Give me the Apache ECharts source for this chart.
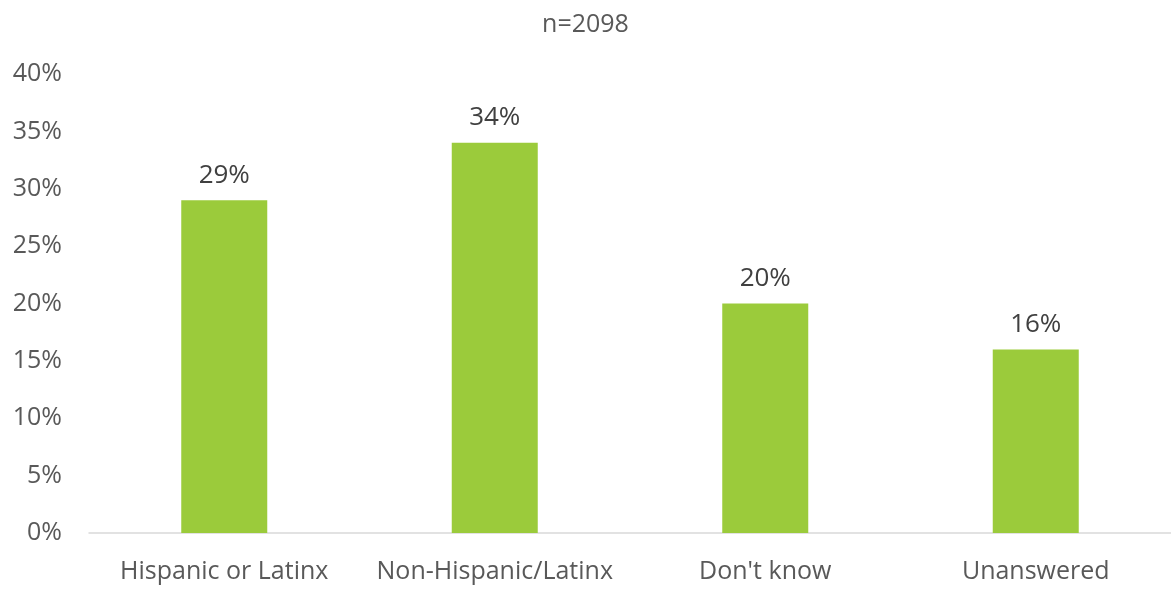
<!DOCTYPE html>
<html>
<head>
<meta charset="utf-8">
<script src="https://cdn.jsdelivr.net/npm/echarts@6/dist/echarts.min.js"></script>
<style>html,body{margin:0;padding:0;background:#fff}#c{width:1171px;height:591px}</style>
</head>
<body>
<div id="c"></div>
<script>
const categories = ["Hispanic or Latinx", "Non-Hispanic/Latinx", "Don't know", "Unanswered"];
const values = [29, 34, 20, 16];
const titleText = "n=2098";
const font = "'Open Sans', sans-serif";
const chart = echarts.init(document.getElementById('c'));
chart.setOption({
  animation: false,
  title: {
    text: titleText, left: 'center', top: 7,
    textStyle: { fontFamily: font, fontSize: 25, fontWeight: 'normal', color: '#595959' }
  },
  grid: { left: 89, right: -6, top: 74, bottom: 58 },
  xAxis: {
    type: 'category', data: categories,
    axisLine: { lineStyle: { color: '#d9d9d9', width: 1.5 } },
    axisTick: { show: false },
    axisLabel: { interval: 0, fontFamily: font, fontSize: 25, color: '#595959', margin: 26 }
  },
  yAxis: {
    type: 'value', min: 0, max: 40, interval: 5,
    splitLine: { show: false },
    axisLine: { show: false },
    axisTick: { show: false },
    axisLabel: { fontFamily: font, fontSize: 25, color: '#595959', margin: 27, formatter: '{value}%' }
  },
  series: [{
    type: 'bar', data: values, barWidth: 86,
    itemStyle: { color: '#9BCB3B' },
    label: { show: true, position: 'top', distance: 12, formatter: '{c}%',
      fontFamily: font, fontSize: 26, color: '#404040' }
  }]
});
</script>
</body>
</html>
